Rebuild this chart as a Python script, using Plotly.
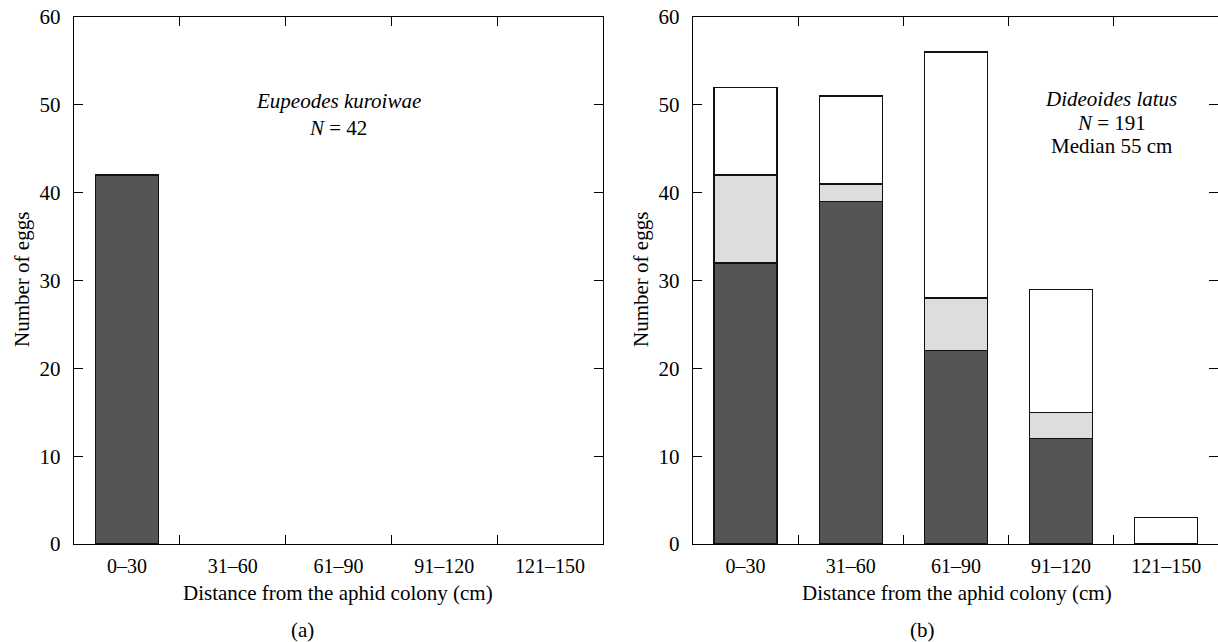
import plotly.graph_objects as go

categories = ["0–30", "31–60", "61–90", "91–120", "121–150"]
a_eggs = [42, None, None, None, None]
b_dark = [32, 39, 22, 12, None]
b_light = [10, 2, 6, 3, None]
b_white = [10, 10, 28, 14, 3]
y_ticks = [0, 10, 20, 30, 40, 50, 60]

W, H = 1218, 642
FONT = "Liberation Serif"
DARK = "#545655"
LIGHT = "#dcdddc"


def px(x):
    return x / W


def py(y):
    return 1 - y / H


fig = go.Figure()
bar_style = dict(width=0.6, marker_line=dict(color="#111111", width=1.3), showlegend=False, hoverinfo="skip")
fig.add_trace(go.Bar(x=categories, y=a_eggs, marker_color=DARK, xaxis="x", yaxis="y", **bar_style))
fig.add_trace(go.Bar(x=categories, y=b_dark, marker_color=DARK, xaxis="x2", yaxis="y2", **bar_style))
fig.add_trace(go.Bar(x=categories, y=b_light, marker_color=LIGHT, xaxis="x2", yaxis="y2", **bar_style))
fig.add_trace(go.Bar(x=categories, y=b_white, marker_color="white", xaxis="x2", yaxis="y2", **bar_style))

xcommon = dict(type="category", categoryorder="array", categoryarray=categories,
               showline=True, linecolor="black", linewidth=1.4, mirror="ticks",
               ticks="inside", ticklen=9, tickwidth=1.4, tickcolor="black", tickson="boundaries",
               showgrid=False, zeroline=False, automargin=False, ticklabelstandoff=4,
               tickfont=dict(family=FONT, size=20, color="black"))
ycommon = dict(range=[0, 60], tickvals=y_ticks, showline=True, linecolor="black", linewidth=1.4,
               mirror="ticks", ticks="inside", ticklen=9, tickwidth=1.4, tickcolor="black",
               showgrid=False, zeroline=False, automargin=False, ticklabelstandoff=8,
               tickfont=dict(family=FONT, size=21, color="black"))

fig.update_layout(
    width=W, height=H, margin=dict(l=0, r=0, t=0, b=0),
    paper_bgcolor="white", plot_bgcolor="white", barmode="stack", bargap=0.4,
    xaxis=dict(domain=[px(74), px(603)], range=[-0.5, 4.5], anchor="y", **xcommon),
    yaxis=dict(domain=[py(544), py(17)], anchor="x", **ycommon),
    xaxis2=dict(domain=[px(693), 1.0], range=[-0.5, 4.5 - 4 / 529], anchor="y2", **xcommon),
    yaxis2=dict(domain=[py(544), py(17)], anchor="x2", **ycommon),
)

tfont = dict(family=FONT, size=21, color="black")
ann = [
    dict(x=px(338), y=py(593), text="Distance from the aphid colony (cm)"),
    dict(x=px(957), y=py(593), text="Distance from the aphid colony (cm)"),
    dict(x=px(302), y=py(630), text="(a)"),
    dict(x=px(922), y=py(630), text="(b)"),
    dict(x=px(22), y=py(280), text="Number of eggs", textangle=-90),
    dict(x=px(641), y=py(280), text="Number of eggs", textangle=-90),
    dict(x=px(338), y=py(101), text="<i>Eupeodes kuroiwae</i>"),
    dict(x=px(338), y=py(128), text="<i>N</i> = 42"),
    dict(x=px(1111), y=py(99), text="<i>Dideoides latus</i>"),
    dict(x=px(1111), y=py(123), text="<i>N</i> = 191"),
    dict(x=px(1111), y=py(146), text="Median 55 cm"),
]
for a in ann:
    fig.add_annotation(xref="paper", yref="paper", showarrow=False, font=tfont,
                       xanchor="center", yanchor="middle", **a)

fig.write_html("out.html", config={"displayModeBar": False},
               post_script="document.body.style.margin='0';document.body.style.overflow='hidden';")
